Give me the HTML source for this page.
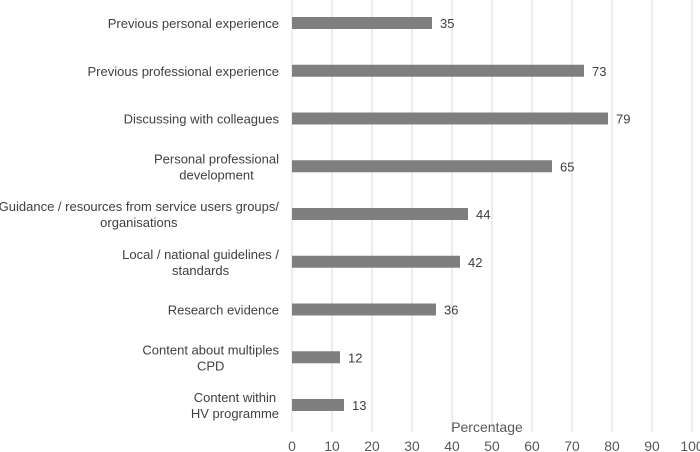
<!DOCTYPE html>
<html><head><meta charset="utf-8"><style>
html,body{margin:0;padding:0;background:#fff;}
svg{display:block;font-family:"Liberation Sans",sans-serif;}
</style></head><body>
<svg id="chart" width="700" height="452"></svg>
<script>
const categories=["Previous personal experience","Previous professional experience","Discussing with colleagues","Personal professional|development","Guidance / resources from service users groups/|organisations","Local / national guidelines /|standards","Research evidence","Content about multiples|CPD","Content within|HV programme"];
const values=[35,73,79,65,44,42,36,12,13];
const ticks=[0,10,20,30,40,50,60,70,80,90,100];
const NS="http://www.w3.org/2000/svg";
const svg=document.getElementById('chart');
const x0=292,pxPer=4,top0=23,step=47.75;
const xs=v=>x0+v*pxPer, ys=i=>top0+i*step;
function mk(t,a){const e=document.createElementNS(NS,t);for(const k in a)e.setAttribute(k,a[k]);svg.appendChild(e);return e;}
ticks.forEach(t=>{
 const g=mk('line',{x1:xs(t),x2:xs(t),y1:0,y2:432,stroke:'#d9d9d9','stroke-width':1});
 
 
 const l=mk('text',{x:xs(t),y:451,'text-anchor':'middle','font-size':14,fill:'#595959'});
 l.textContent=t;
 
 
});
categories.forEach((c,i)=>{
 const y=ys(i);
 const b=mk('rect',{x:x0,y:y-6,width:xs(values[i])-x0,height:12,fill:'#7f7f7f'});
 
 
 const v=mk('text',{x:xs(values[i])+8,y:y+5,'font-size':13,fill:'#404040'});
 v.textContent=values[i];
 
 
 const lines=c.split('|');
 const els=lines.map((ln,j)=>{
  const yy=y+5+(j-(lines.length-1)/2)*16;
  const t=mk('text',{x:279,y:yy,'text-anchor':'middle','font-size':13,fill:'#404040'});
  t.textContent=ln;
  
  
  return t;
 });
 const w=Math.max(...els.map(e=>e.getComputedTextLength()));
 els.forEach(e=>e.setAttribute('x',279-w/2));
});
const ttl=mk('text',{x:487,y:432,'text-anchor':'middle','font-size':14,fill:'#595959'});
ttl.textContent='Percentage';


</script>
</body></html>
